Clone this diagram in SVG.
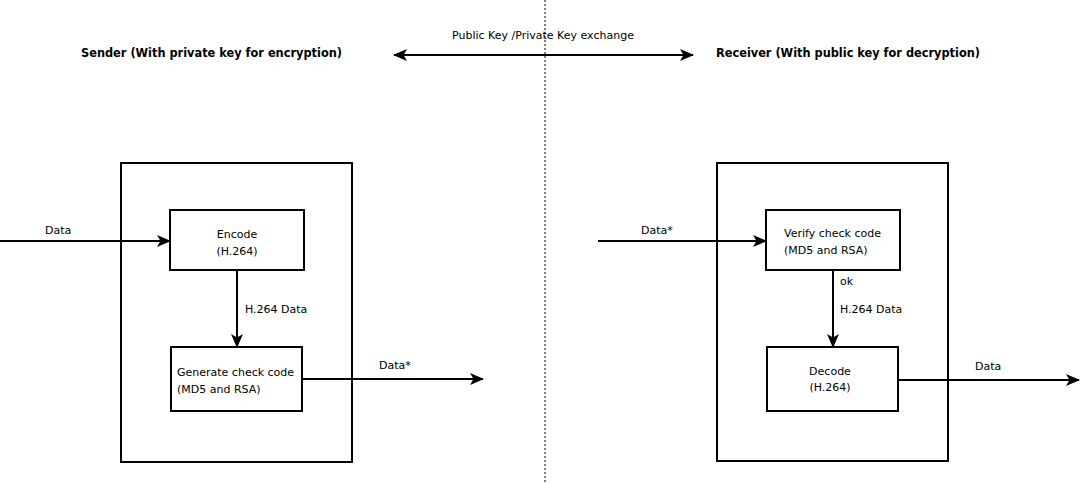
<svg xmlns="http://www.w3.org/2000/svg" width="1082" height="483" viewBox="0 0 1082 483">
<style>
.box{fill:#fff;stroke:#000;stroke-width:2}
.ln{fill:none;stroke:#000;stroke-width:2}
.t{font-family:"DejaVu Sans",Verdana,sans-serif;font-size:11px;fill:#000}
.c{text-anchor:middle}
.b{font-weight:bold;font-size:12px}
</style>
<defs>
<marker id="ah" viewBox="0 0 14 14" refX="13" refY="7" markerWidth="14" markerHeight="14" markerUnits="userSpaceOnUse" orient="auto-start-reverse">
<path d="M0,1 L14,7 L0,13 L3.5,7 Z" fill="#000"/>
</marker>
</defs>
<rect width="1082" height="483" fill="#fff"/>
<g id="divider"><line x1="545" y1="0" x2="545" y2="483" stroke="#000" stroke-width="1" stroke-dasharray="2,2"/></g>
<g id="sender-title"><text class="t b" x="81" y="57" textLength="261" lengthAdjust="spacingAndGlyphs">Sender (With private key for encryption)</text></g>
<g id="receiver-title"><text class="t b" x="716" y="57" textLength="264" lengthAdjust="spacingAndGlyphs">Receiver (With public key for decryption)</text></g>
<g id="sender"><rect class="box" x="121" y="163" width="231" height="299"/></g>
<g id="receiver"><rect class="box" x="717" y="163" width="231" height="298"/></g>
<g id="connectors">
<line class="ln" x1="394" y1="55" x2="693" y2="55" marker-start="url(#ah)" marker-end="url(#ah)"/>
<text class="t c" x="543" y="39">Public Key /Private Key exchange</text>
<line class="ln" x1="0" y1="241" x2="170" y2="241" marker-end="url(#ah)"/>
<text class="t" x="45" y="234">Data</text>
<line class="ln" x1="237" y1="270" x2="237" y2="347" marker-end="url(#ah)"/>
<text class="t" x="245" y="313">H.264 Data</text>
<line class="ln" x1="302" y1="379" x2="483" y2="379" marker-end="url(#ah)"/>
<text class="t" x="379" y="369">Data*</text>
<line class="ln" x1="598" y1="241" x2="766" y2="241" marker-end="url(#ah)"/>
<text class="t" x="641" y="234">Data*</text>
<line class="ln" x1="833" y1="270" x2="833" y2="347" marker-end="url(#ah)"/>
<text class="t" x="840" y="285">ok</text>
<text class="t" x="840" y="313">H.264 Data</text>
<line class="ln" x1="898" y1="380" x2="1079" y2="380" marker-end="url(#ah)"/>
<text class="t" x="975" y="370">Data</text>
</g>
<g id="encode"><rect class="box" x="170" y="210" width="134" height="60"/>
<text class="t c" x="237" y="238">Encode</text><text class="t c" x="237" y="255">(H.264)</text></g>
<g id="generate"><rect class="box" x="171" y="347" width="131" height="64"/>
<text class="t" x="177" y="376">Generate check code</text><text class="t" x="177" y="393">(MD5 and RSA)</text></g>
<g id="verify"><rect class="box" x="766" y="210" width="134" height="60"/>
<text class="t" x="784" y="237">Verify check code</text><text class="t" x="784" y="254">(MD5 and RSA)</text></g>
<g id="decode"><rect class="box" x="767" y="347" width="131" height="64"/>
<text class="t c" x="830" y="375">Decode</text><text class="t c" x="830" y="391">(H.264)</text></g>
</svg>
